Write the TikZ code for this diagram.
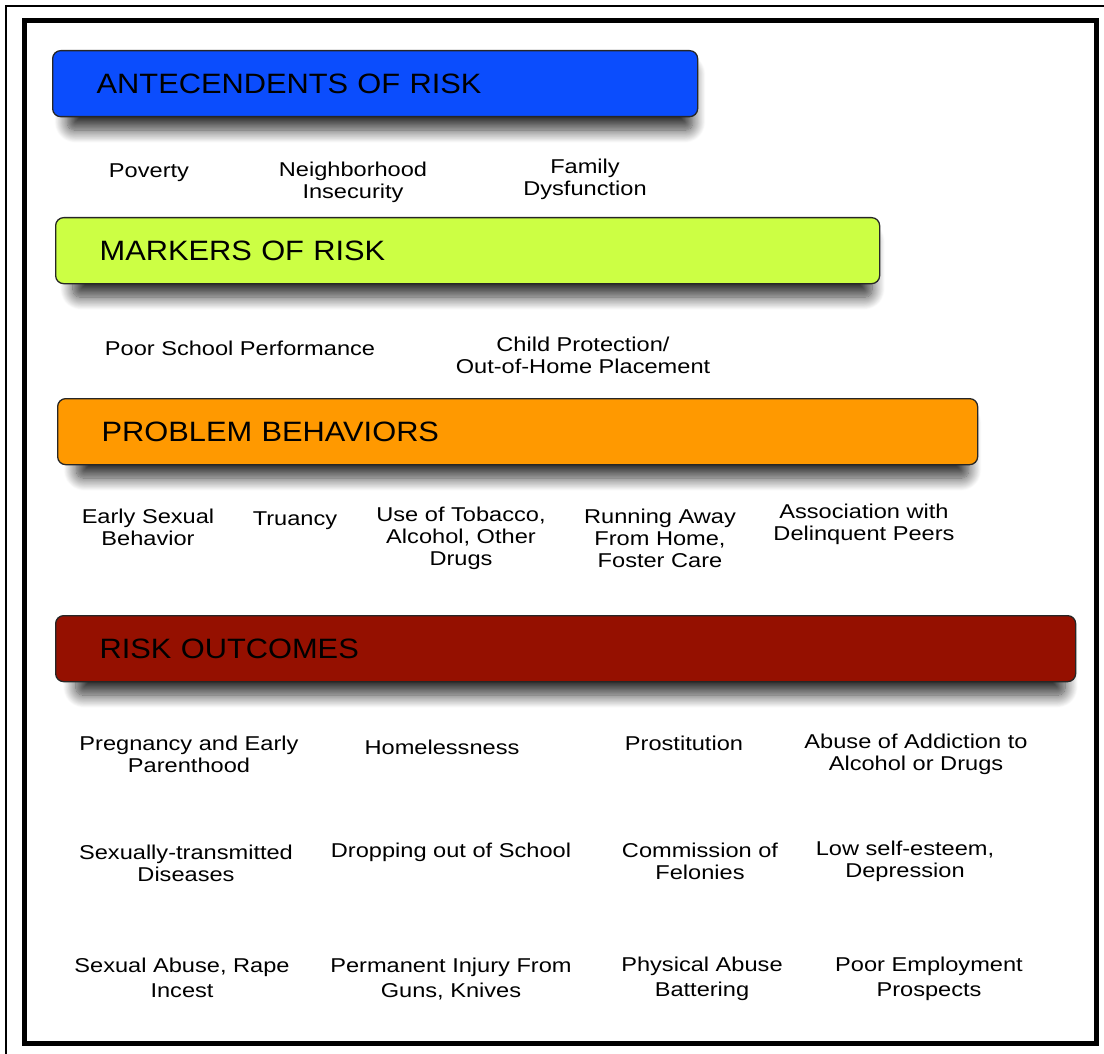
\documentclass[tikz,border=0pt]{standalone}
\usepackage{fontspec}
\setmainfont{Liberation Sans}[FakeStretch=1.18]
\newfontfamily\headfont{Liberation Sans}[FakeStretch=1.1]
\usetikzlibrary{shapes.geometric, positioning, calc, shadows, shadows.blur}
\definecolor{antblue}{HTML}{0B4DFD}
\definecolor{markgreen}{HTML}{CCFF44}
\definecolor{proborange}{HTML}{FF9900}
\definecolor{outred}{HTML}{951000}

\begin{document}
\begin{tikzpicture}[x=1pt, y=-1pt,
  bar/.style={rectangle, rounded corners=8pt, draw=black!85, line width=1.3pt, anchor=north west, minimum height=66pt, inner xsep=44pt, align=left, font=\headfont\fontsize{28}{30}\selectfont, blur shadow={shadow xshift=5pt, shadow yshift=-15pt, shadow scale=0.97, shadow blur radius=13pt, shadow blur steps=16, shadow opacity=80}},
  item/.style={align=center, inner sep=0pt, font=\fontsize{20}{22}\selectfont},
  itemwide/.style={item, font=\fontsize{20}{25}\selectfont}
]
  \useasboundingbox (0,0) rectangle (1104,1054);
  \draw[line width=2pt] (6,1054) -- (6,6) -- (1104,6);
  \draw[line width=5pt] (24,21) rectangle (1096,1043);

  \node[bar, fill=antblue, text width=557pt] (ant) at (52,50) {ANTECENDENTS OF RISK};
  \node[item] (a1) at (149,173) {Poverty};
  \node[item] (a2) at (353,182) {Neighborhood\\Insecurity};
  \node[item] (a3) at (585,179) {Family\\Dysfunction};

  \node[bar, fill=markgreen, text width=736pt] (mark) at (55,217) {MARKERS OF RISK};
  \node[item] (m1) at (240,348) {Poor School Performance};
  \node[item] (m2) at (583,355) {Child Protection/\\Out-of-Home Placement};

  \node[bar, fill=proborange, text width=832pt] (prob) at (57,398) {PROBLEM BEHAVIORS};
  \node[item] (p1) at (148,527) {Early Sexual\\Behavior};
  \node[item] (p2) at (295,521) {Truancy};
  \node[item] (p3) at (461,538) {Use of Tobacco,\\Alcohol, Other\\Drugs};
  \node[item] (p4) at (660,538) {Running Away\\From Home,\\Foster Care};
  \node[item] (p5) at (864,524) {Association with\\Delinquent Peers};

  \node[bar, fill=outred, text width=932pt] (out) at (55,615) {RISK OUTCOMES};
  \node[item] (o1) at (189,754) {Pregnancy and Early\\Parenthood};
  \node[item] (o2) at (442,747) {Homelessness};
  \node[item] (o3) at (684,743) {Prostitution};
  \node[item] (o4) at (916,754) {Abuse of Addiction to\\Alcohol or Drugs};
  \node[item] (o5) at (186,863) {Sexually-transmitted\\Diseases};
  \node[item] (o6) at (451,852) {Dropping out of School};
  \node[item] (o7) at (700,861) {Commission of\\Felonies};
  \node[item] (o8) at (905,861) {Low self-esteem,\\Depression};
  \node[itemwide] (o9) at (182,978) {Sexual Abuse, Rape\\Incest};
  \node[itemwide] (o10) at (451,979) {Permanent Injury From\\Guns, Knives};
  \node[itemwide] (o11) at (702,979) {Physical Abuse\\Battering};
  \node[itemwide] (o12) at (929,979) {Poor Employment\\Prospects};
\end{tikzpicture}
\end{document}
